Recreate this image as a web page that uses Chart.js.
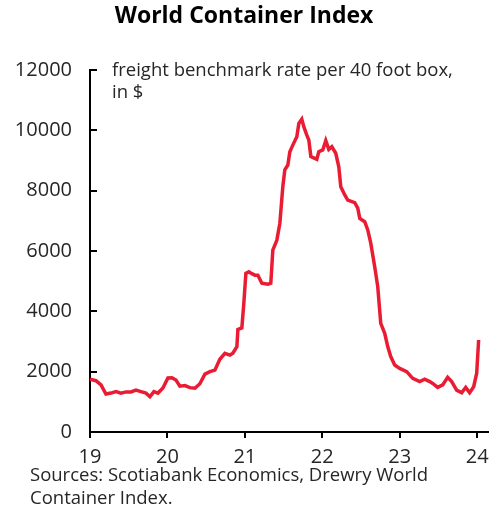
<!DOCTYPE html>
<html>
<head>
<meta charset="utf-8">
<script src="https://cdn.jsdelivr.net/npm/chart.js@4.4.1/dist/chart.umd.min.js"></script>
<style>
  html, body { margin: 0; padding: 0; background: #fff; }
  #wrap { width: 502px; height: 514px; }
</style>
</head>
<body>
<div id="wrap"><canvas id="wci-chart" width="502" height="514"></canvas></div>
<script>
/* World Container Index – weekly freight rate, 2019 to Jan 2024 */

// x position in years (19 = Jan 2019)
const weekPos = [
  19.000, 19.077, 19.142, 19.206, 19.271, 19.335, 19.400, 19.465, 19.529, 19.594,
  19.658, 19.723, 19.774, 19.826, 19.877, 19.942, 20.006, 20.058, 20.110, 20.161,
  20.226, 20.290, 20.355, 20.419, 20.484, 20.548, 20.613, 20.677, 20.742, 20.806,
  20.845, 20.897, 20.910, 20.961, 20.987, 21.013, 21.052, 21.090, 21.129, 21.168,
  21.219, 21.297, 21.335, 21.361, 21.413, 21.452, 21.490, 21.516, 21.555, 21.581,
  21.619, 21.671, 21.697, 21.735, 21.761, 21.800, 21.826, 21.852, 21.903, 21.929,
  21.955, 22.006, 22.045, 22.084, 22.123, 22.174, 22.213, 22.239, 22.290, 22.329,
  22.419, 22.458, 22.484, 22.548, 22.587, 22.626, 22.677, 22.716, 22.755, 22.806,
  22.845, 22.884, 22.935, 23.000, 23.090, 23.168, 23.258, 23.323, 23.387, 23.426,
  23.490, 23.555, 23.619, 23.671, 23.735, 23.800, 23.852, 23.903, 23.955, 23.994,
  24.019
];

// $ per 40ft box
const rateUsd = [
  1750, 1700, 1560, 1260, 1290, 1340, 1290, 1330, 1330, 1390,
  1340, 1290, 1170, 1340, 1290, 1460, 1790, 1800, 1720, 1520,
  1540, 1470, 1450, 1600, 1920, 2000, 2050, 2410, 2610, 2550,
  2610, 2830, 3400, 3450, 4280, 5260, 5310, 5250, 5200, 5200,
  4930, 4900, 4930, 6030, 6360, 6920, 8130, 8690, 8850, 9290,
  9510, 9790, 10230, 10370, 10120, 9840, 9680, 9130, 9070, 9040,
  9290, 9350, 9660, 9370, 9460, 9240, 8790, 8130, 7860, 7690,
  7600, 7420, 7080, 6970, 6700, 6260, 5480, 4820, 3600, 3270,
  2830, 2500, 2220, 2110, 2000, 1780, 1670, 1750, 1670, 1610,
  1480, 1560, 1810, 1670, 1390, 1300, 1480, 1300, 1500, 1950,
  3050
];

const yearTicks = [19, 20, 21, 22, 23, 24];
const rateTicks = [0, 2000, 4000, 6000, 8000, 10000, 12000];

const FONT = '"Open Sans", "Noto Sans", sans-serif';
const TEXT = '#262626';

// note in the upper left of the plot, sources under the chart
const noteLines = ['freight benchmark rate per 40 foot box,', 'in $'];
const sourceLines = ['Sources: Scotiabank Economics, Drewry World', 'Container Index.'];

const textPlugin = {
  id: 'extraText',
  afterDraw(chart) {
    const ctx = chart.ctx;
    ctx.save();
    ctx.font = '18.5px ' + FONT;
    ctx.fillStyle = TEXT;
    ctx.textBaseline = 'middle';
    ctx.textAlign = 'left';
    noteLines.forEach((t, i) => ctx.fillText(t, 112, 71 + i * 22));
    sourceLines.forEach((t, i) => ctx.fillText(t, 30, 476 + i * 23));
    ctx.restore();
  }
};

const points = weekPos.map((x, i) => ({ x, y: rateUsd[i] }));

new Chart(document.getElementById('wci-chart'), {
  type: 'line',
  data: {
    datasets: [{
      data: points,
      borderColor: '#ea1c34',
      borderWidth: 3.5,
      pointRadius: 0,
      tension: 0,
      fill: false
    }]
  },
  options: {
    responsive: false,
    animation: false,
    layout: { padding: { left: 0, right: 14, top: 0, bottom: 47 } },
    plugins: {
      legend: { display: false },
      tooltip: { enabled: false },
      title: {
        display: true,
        text: 'World Container Index',
        color: '#000',
        font: { family: FONT, size: 23, weight: 'bold' },
        padding: { top: 3, bottom: 39.4 }
      }
    },
    scales: {
      x: {
        type: 'linear',
        min: 19,
        max: 24.14,
        afterBuildTicks: s => { s.ticks = yearTicks.map(v => ({ value: v })); },
        afterFit: s => { s.height = 35; },
        border: { display: true, color: '#000', width: 2 },
        grid: { display: true, drawOnChartArea: false, drawTicks: true, tickLength: 6, color: '#000', lineWidth: 2 },
        ticks: { color: TEXT, font: { family: FONT, size: 20 }, padding: 7, maxRotation: 0 }
      },
      y: {
        min: 0,
        max: 12000,
        afterBuildTicks: s => { s.ticks = rateTicks.map(v => ({ value: v })); },
        afterFit: s => { s.width = 90; },
        border: { display: true, color: '#000', width: 2 },
        grid: { display: true, drawOnChartArea: false, drawTicks: true, tickLength: -7, color: '#000', lineWidth: 2 },
        ticks: {
          color: TEXT,
          font: { family: FONT, size: 20 },
          padding: 25,
          callback: v => String(v)
        }
      }
    }
  },
  plugins: [textPlugin]
});
</script>
</body>
</html>
